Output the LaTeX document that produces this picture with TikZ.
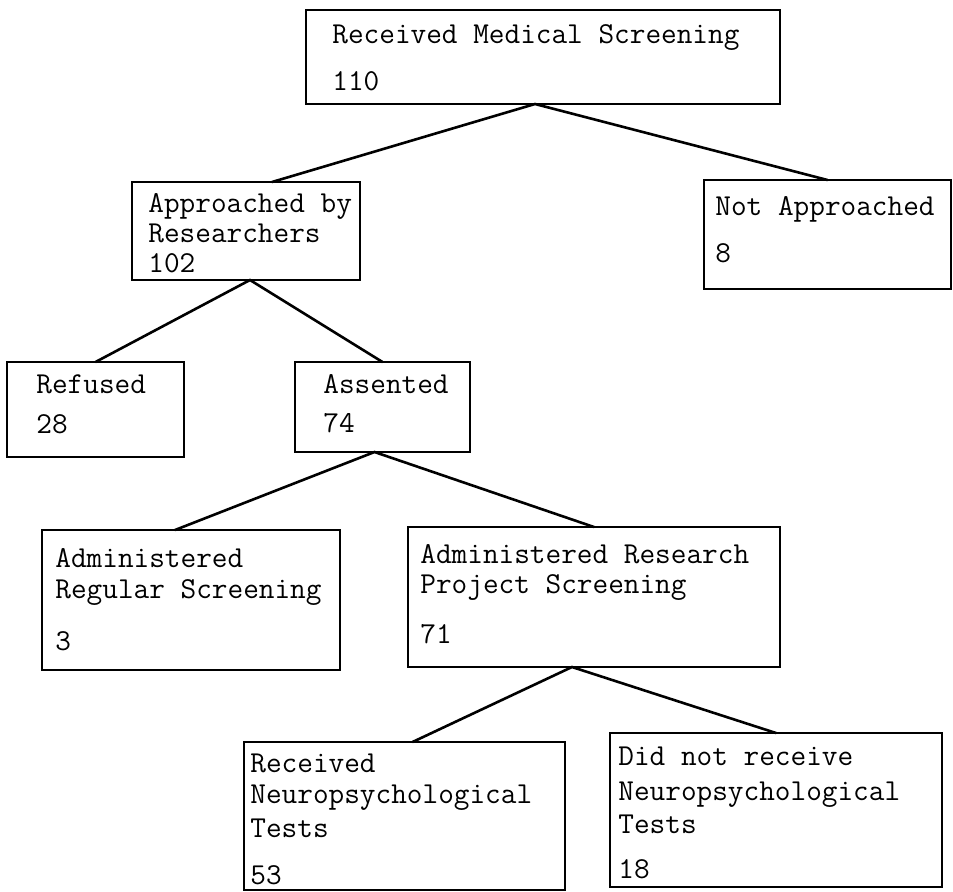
\documentclass[tikz,border=0pt]{standalone}
\usepackage{fontspec}
\usetikzlibrary{calc}
\newcommand\boxat[5]{\node[box, minimum width={(#4-#2)*0.5pt}, minimum height={(#5-#3)*0.5pt}] (#1) at (#2,#3) {};}
\begin{document}
\begin{tikzpicture}[x=0.5pt,y=-0.5pt,
  box/.style={draw, line width=1pt, inner sep=0pt, outer sep=0pt, anchor=north west},
  txt/.style={anchor=base west, inner sep=0pt, font=\fontsize{15.2}{18}\selectfont\ttfamily},
  link/.style={line width=1.3pt, line cap=round}]
\useasboundingbox (0,0) rectangle (953,891);

% boxes
\boxat{top}{306}{10}{780}{104}
\boxat{appr}{132}{182}{360}{280}
\boxat{notap}{704}{180}{951}{289}
\boxat{ref}{7}{362}{184}{457}
\boxat{ass}{295}{362}{470}{452}
\boxat{adreg}{42}{530}{340}{670}
\boxat{adres}{408}{527}{780}{667}
\boxat{recn}{244}{742}{565}{890}
\boxat{didn}{610}{733}{942}{887}

% texts
\node[txt] (top1) at (332,43) {Received Medical Screening};
\node[txt] (top2) at (332,90) {110};
\node[txt] (appr1) at (148,212) {Approached by};
\node[txt] (appr2) at (148,242) {Researchers};
\node[txt] (appr3) at (148,272) {102};
\node[txt] (notap1) at (715,215) {Not Approached};
\node[txt] (notap2) at (715,262) {8};
\node[txt] (ref1) at (36,393) {Refused};
\node[txt] (ref2) at (36,433) {28};
\node[txt] (ass1) at (323,393) {Assented};
\node[txt] (ass2) at (323,432) {74};
\node[txt] (adreg1) at (55,567) {Administered};
\node[txt] (adreg2) at (55,598) {Regular Screening};
\node[txt] (adreg3) at (55,650) {3};
\node[txt] (adres1) at (420,563) {Administered Research};
\node[txt] (adres2) at (420,593) {Project Screening};
\node[txt] (adres3) at (420,643) {71};
\node[txt] (recn1) at (250,772) {Received};
\node[txt] (recn2) at (250,803) {Neuropsychological};
\node[txt] (recn3) at (250,837) {Tests};
\node[txt] (recn4) at (250,884) {53};
\node[txt] (didn1) at (618,765) {Did not receive};
\node[txt] (didn2) at (618,800) {Neuropsychological};
\node[txt] (didn3) at (618,833) {Tests};
\node[txt] (didn4) at (618,878) {18};

% connectors
\draw[link] ([xshift=13pt]appr.north) -- ([xshift=-4pt]top.south) -- (notap.north);
\draw[link] (ref.north) -- ([xshift=2pt]appr.south) -- (ass.north);
\draw[link] ([xshift=-8pt]adreg.north) -- ([xshift=-4pt]ass.south) -- (adres.north);
\draw[link] ([xshift=4pt]recn.north) -- ([xshift=-11pt]adres.south) -- (didn.north);
\end{tikzpicture}
\end{document}
